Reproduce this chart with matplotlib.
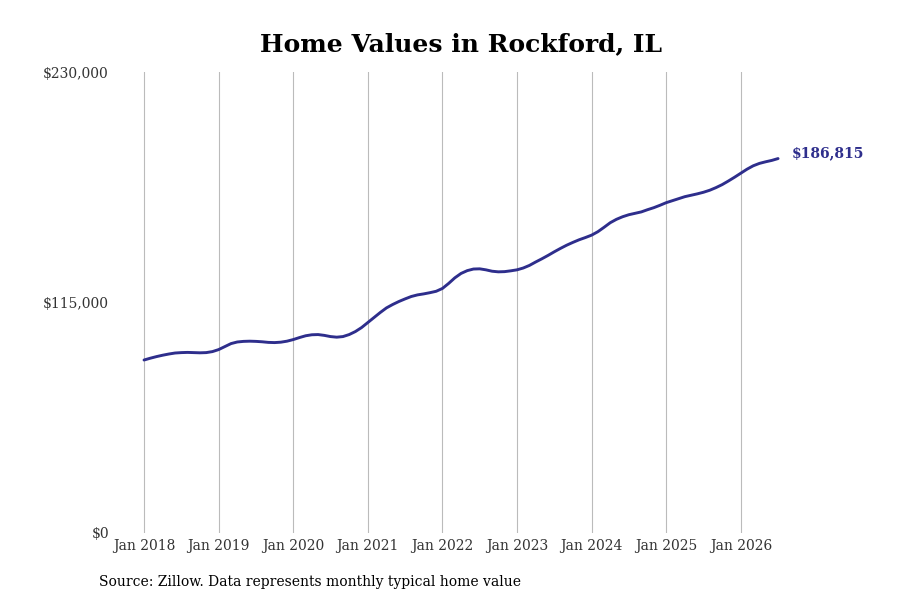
import numpy as np
import matplotlib.pyplot as plt

# -------------------------------
# Data (monthly typical home value, Jan 2018 - Jul 2026)
# -------------------------------
start_year = 2018
values = [
    # 2018
    86300, 87200, 88000, 88700, 89300, 89800, 90000, 90100, 90000, 89900, 90000, 90500,
    # 2019
    91500, 93000, 94500, 95300, 95600, 95700, 95600, 95400, 95100, 95000, 95200, 95700,
    # 2020
    96500, 97500, 98400, 98900, 99000, 98600, 98000, 97700, 98000, 99000, 100500, 102500,
    # 2021
    105000, 107500, 110000, 112300, 114000, 115500, 116800, 118000, 118800, 119300, 119900, 120600,
    # 2022
    122000, 124500, 127300, 129500, 130900, 131700, 131800, 131300, 130600, 130300, 130400, 130800,
    # 2023
    131300, 132200, 133500, 135200, 136800, 138500, 140300, 142000, 143600, 145000, 146300, 147400,
    # 2024
    148600, 150300, 152500, 154800, 156500, 157800, 158800, 159500, 160200, 161300, 162300, 163500,
    # 2025
    164800, 165800, 166800, 167800, 168500, 169200, 170000, 171000, 172300, 173800, 175600, 177500,
    # 2026
    179500, 181500, 183200, 184400, 185200, 185900, 186815,
]
tick_years = list(range(2018, 2027))
tick_labels = [f"Jan {y}" for y in tick_years]
y_ticks = [0, 115000, 230000]
y_labels = ["$0", "$115,000", "$230,000"]

line_color = "#2e2e8c"
plt.rcParams['font.family'] = ['DejaVu Serif']

x = start_year + np.arange(len(values)) / 12.0

# -------------------------------
# Plot
# -------------------------------
fig = plt.figure(figsize=(9, 6), dpi=100)
ax = fig.add_axes([120 / 900, 67 / 600, 680 / 900, 461 / 600])
ax.plot(x, values, color=line_color, linewidth=2.1, solid_capstyle="round")

ax.set_xlim(2017.678, 2026.794)
ax.set_ylim(0, 230000)
ax.set_xticks(tick_years)
ax.set_xticklabels(tick_labels, fontsize=10, color="#333333")
ax.set_yticks(y_ticks)
ax.set_yticklabels(y_labels, fontsize=10, color="#333333")
ax.tick_params(length=0, pad=4)
ax.tick_params(axis="y", pad=8)
ax.grid(True, axis="x", color="#bbbbbb", linewidth=0.8)
for s in ax.spines.values():
    s.set_visible(False)

ax.annotate(f"${values[-1]:,}", xy=(x[-1], values[-1]), xytext=(10, 4),
            textcoords="offset points", fontsize=10, fontweight="bold",
            color=line_color, va="center", ha="left")

fig.text(0.512, 0.926, "Home Values in Rockford, IL", ha="center", va="center",
         fontsize=18, fontweight="bold", color="black")
fig.text(0.11, 0.03, "Source: Zillow. Data represents monthly typical home value",
         ha="left", va="center", fontsize=10, color="black")

fig.savefig("out.png", dpi=100)
